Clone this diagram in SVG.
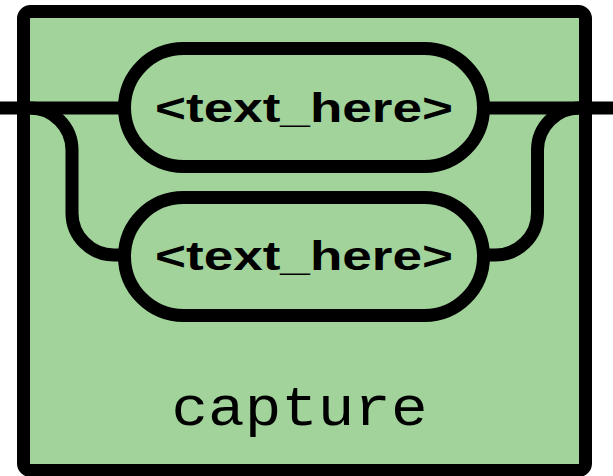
<svg xmlns="http://www.w3.org/2000/svg" width="613" height="476" viewBox="0 0 613 476">
<style>
.box{fill:#a1d39b;stroke:#000;stroke-width:13}
.pill{fill:#a1d39b;stroke:#000;stroke-width:13}
.wire{fill:none;stroke:#000;stroke-width:13}
.lbl{font-family:"Liberation Sans",Arial,sans-serif;font-weight:bold;font-size:41px;fill:#000}
.cap{font-family:"Liberation Mono","Courier New",monospace;font-size:56px;fill:#000}
</style>
<g id="capture">
<rect class="box" x="23.5" y="11.5" width="562" height="459" rx="7"/>
<text class="cap" x="299.5" y="425" text-anchor="middle" textLength="256" lengthAdjust="spacingAndGlyphs">capture</text>
</g>
<g id="connectors">
<path class="wire" d="M0,108 H130"/>
<path class="wire" d="M480,108 H613"/>
<path class="wire" d="M30,108 A42,42 0 0 1 72,150 V213 A42,42 0 0 0 114,255 H130"/>
<path class="wire" d="M579.5,108 A42,42 0 0 0 537.5,150 V213 A42,42 0 0 1 495.5,255 H480"/>
</g>
<g id="node1">
<rect class="pill" x="124.5" y="48.5" width="359" height="118" rx="59"/>
<text class="lbl" x="304" y="122" text-anchor="middle" textLength="298" lengthAdjust="spacingAndGlyphs">&lt;text_here&gt;</text>
</g>
<g id="node2">
<rect class="pill" x="124.5" y="197.5" width="359" height="118" rx="59"/>
<text class="lbl" x="304" y="270" text-anchor="middle" textLength="298" lengthAdjust="spacingAndGlyphs">&lt;text_here&gt;</text>
</g>
</svg>
